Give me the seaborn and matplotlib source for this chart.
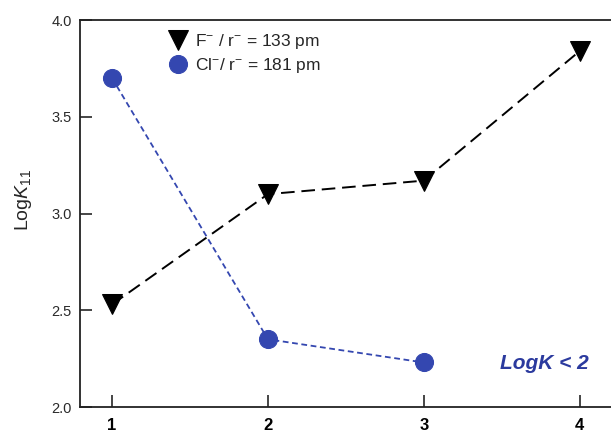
import matplotlib
matplotlib.use("Agg")
import matplotlib.pyplot as plt
import seaborn as sns
import pandas as pd

sns.set_style("ticks")
plt.rcParams['font.family'] = ['Liberation Sans', 'DejaVu Sans']
plt.rcParams['mathtext.fontset'] = 'custom'
plt.rcParams['mathtext.it'] = 'Liberation Sans:italic'
plt.rcParams['mathtext.rm'] = 'Liberation Sans'

x_f = [1, 2, 3, 4]
logk_f = [2.53, 3.10, 3.17, 3.84]
x_cl = [1, 2, 3]
logk_cl = [3.70, 2.35, 2.23]
label_f = "F$^{-}$ / r$^{-}$ = 133 pm"
label_cl = "Cl$^{-}$/ r$^{-}$ = 181 pm"
xticks = [1, 2, 3, 4]
yticks = [2.0, 2.5, 3.0, 3.5, 4.0]

df_f = pd.DataFrame({"x": x_f, "y": logk_f})
df_cl = pd.DataFrame({"x": x_cl, "y": logk_cl})

fig = plt.figure(figsize=(6.11, 4.40), dpi=100)
ax = fig.add_axes([0.131, 0.075, 0.869, 0.8795])

blue = "#3447b0"
sns.lineplot(data=df_f, x="x", y="y", ax=ax, color="black", sort=False,
             linestyle=(0, (7, 3.5)), linewidth=1.4, marker="v",
             markersize=14, markeredgecolor="black", markerfacecolor="black",
             label=label_f)
sns.lineplot(data=df_cl, x="x", y="y", ax=ax, color=blue, sort=False,
             linestyle=(0, (3.2, 2)), linewidth=1.3, marker="o",
             markersize=13, markeredgecolor=blue, markerfacecolor=blue,
             label=label_cl)

ax.set_xlim(0.795, 4.2)
ax.set_ylim(2.0, 4.0)
ax.set_xticks(xticks)
ax.set_xticklabels([str(v) for v in xticks], fontsize=12, fontweight="bold", color="black")
ax.set_yticks(yticks)
ax.set_yticklabels([f"{v:.1f}" for v in yticks], fontsize=10.5, color="#2a2a2a")
ax.tick_params(direction="in", length=8.5, width=1.2)
ax.tick_params(axis="x", pad=8)
ax.tick_params(axis="y", pad=6)
ax.set_xlabel("")
ax.set_ylabel(r"Log$\mathit{K}_{\mathit{11}}$", fontsize=14)
ax.yaxis.set_label_coords(-0.086, 0.535)
for s in ["left", "bottom", "top"]:
    ax.spines[s].set_linewidth(1.3)
    ax.spines[s].set_color("#222222")
ax.spines["right"].set_visible(False)

leg = ax.legend(loc="upper left", bbox_to_anchor=(0.148, 1.0), frameon=False,
                fontsize=12.5, handlelength=0.8, handletextpad=0.6,
                labelspacing=0.3, borderaxespad=0.3)
for h in leg.legend_handles:
    h.set_linestyle("None")

ax.text(4.06, 2.227, "LogK < 2", color="#2b3a9e", fontsize=15,
        fontweight="bold", fontstyle="italic", ha="right", va="center")

fig.savefig("out.png", dpi=100)
